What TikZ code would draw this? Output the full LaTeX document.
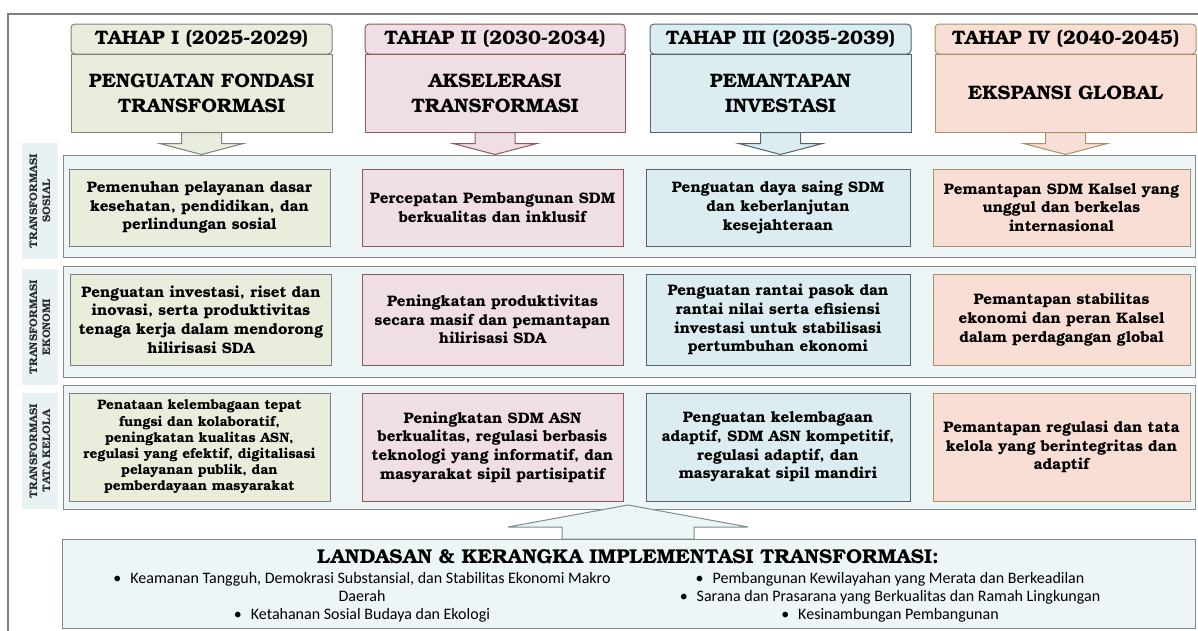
\documentclass[tikz,border=0pt]{standalone}
\usepackage{fontspec}
\setmainfont{TeX Gyre Bonum}
\newfontfamily\bulletfont{Carlito}
\usetikzlibrary{calc}
\definecolor{gfill}{HTML}{E8EDDC}\definecolor{gline}{HTML}{7F7F7F}
\definecolor{pfill}{HTML}{EFDEE3}\definecolor{pline}{HTML}{8C5A5A}
\definecolor{bfill}{HTML}{DCEDF2}\definecolor{bline}{HTML}{52656F}
\definecolor{ofill}{HTML}{F9DED5}\definecolor{oline}{HTML}{A8926A}
\definecolor{panfill}{HTML}{EEF5F7}\definecolor{panline}{HTML}{7F8A8C}
\definecolor{labfill}{HTML}{E8F1F4}\definecolor{labtext}{HTML}{2A2A2A}
\begin{document}
\begin{tikzpicture}[x=1pt,y=-1pt,
  head/.style={draw, line width=1pt, rounded corners=4pt, minimum height=30pt, inner sep=0pt,
     font=\fontsize{19.5}{22}\selectfont\bfseries},
  body/.style={draw, line width=1pt, minimum height=78pt, inner sep=0pt, align=center,
     font=\fontsize{19.5}{25}\selectfont\bfseries},
  cell/.style={draw, line width=1pt, inner sep=0pt, align=center,
     font=\fontsize{15.2}{18.7}\selectfont\bfseries},
  panel/.style={draw=panline, fill=panfill, line width=1pt},
  lab/.style={fill=labfill, rotate=90, inner sep=0pt, align=center, text=labtext,
     minimum height=36pt, font=\fontsize{11}{13}\selectfont\bfseries},
  darr/.style={line width=1pt, line join=miter}
]
\useasboundingbox (0,0) rectangle (1198,630);
% outer frame
\draw[gline, line width=1.3pt] (8,14) rectangle (1210,645);

% ---- Tahap headers ----
\node[body, fill=gfill, draw=gline, minimum width=261pt] (b1) at (201.5,93) {PENGUATAN FONDASI\\TRANSFORMASI};
\node[head, fill=gfill, draw=gline, minimum width=261pt] (h1) at (201.5,39) {TAHAP I (2025-2029)};
\node[body, fill=pfill, draw=pline, minimum width=260pt] (b2) at (495,93) {AKSELERASI\\TRANSFORMASI};
\node[head, fill=pfill, draw=pline, minimum width=260pt] (h2) at (495,39) {TAHAP II (2030-2034)};
\node[body, fill=bfill, draw=bline, minimum width=261pt] (b3) at (780.5,93) {PEMANTAPAN\\INVESTASI};
\node[head, fill=bfill, draw=bline, minimum width=261pt] (h3) at (780.5,39) {TAHAP III (2035-2039)};
\node[body, fill=ofill, draw=oline, minimum width=261pt] (b4) at (1065.5,93) {EKSPANSI GLOBAL};
\node[head, fill=ofill, draw=oline, minimum width=261pt] (h4) at (1065.5,39) {TAHAP IV (2040-2045)};

% ---- down arrows ----
\foreach \b/\f/\l in {b1/gfill/gline, b2/pfill/pline, b3/bfill/bline, b4/ofill/oline}{
  \draw[darr, fill=\f, draw=\l] ($(\b.south)+(-20,0)$) -- ($(\b.south)+(20,0)$) -- ($(\b.south)+(20,11)$)
     -- ($(\b.south)+(42,11)$) -- ($(\b.south)+(0,22)$) -- ($(\b.south)+(-42,11)$)
     -- ($(\b.south)+(-20,11)$) -- cycle;
}

% ---- row panels ----
\draw[panel] (63,155) rectangle (1195,257);
\draw[panel] (63,266) rectangle (1195,377);
\draw[panel] (63,385) rectangle (1195,509);

\node[lab, minimum width=116pt] (l1) at (40,201) {TRANSFORMASI\\SOSIAL};
\node[lab, minimum width=116pt] (l2) at (40,327) {TRANSFORMASI\\EKONOMI};
\node[lab, minimum width=116pt] (l3) at (40,451) {TRANSFORMASI\\TATA KELOLA};

% ---- row 1 ----
\node[cell, fill=gfill, draw=gline, minimum width=261pt, minimum height=77pt] (s1) at (199.5,207.5)
  {Pemenuhan pelayanan dasar\\kesehatan, pendidikan, dan\\perlindungan sosial};
\node[cell, fill=pfill, draw=pline, minimum width=261pt, minimum height=77pt] (s2) at (492.5,207.5)
  {Percepatan Pembangunan SDM\\berkualitas dan inklusif};
\node[cell, fill=bfill, draw=bline, minimum width=264pt, minimum height=77pt] (s3) at (778,207.5)
  {Penguatan daya saing SDM\\dan keberlanjutan\\kesejahteraan};
\node[cell, fill=ofill, draw=oline, minimum width=257pt, minimum height=77pt] (s4) at (1061.5,207.5)
  {Pemantapan SDM Kalsel yang\\unggul dan berkelas\\internasional};

% ---- row 2 ----
\node[cell, fill=gfill, draw=gline, minimum width=261pt, minimum height=91pt] (e1) at (201,319.5)
  {Penguatan investasi, riset dan\\inovasi, serta produktivitas\\tenaga kerja dalam mendorong\\hilirisasi SDA};
\node[cell, fill=pfill, draw=pline, minimum width=261pt, minimum height=91pt] (e2) at (492.5,319.5)
  {Peningkatan produktivitas\\secara masif dan pemantapan\\hilirisasi SDA};
\node[cell, fill=bfill, draw=bline, minimum width=264pt, minimum height=91pt] (e3) at (778,319.5)
  {Penguatan rantai pasok dan\\rantai nilai serta efisiensi\\investasi untuk stabilisasi\\pertumbuhan ekonomi};
\node[cell, fill=ofill, draw=oline, minimum width=257pt, minimum height=91pt] (e4) at (1061.5,319.5)
  {Pemantapan stabilitas\\ekonomi dan peran Kalsel\\dalam perdagangan global};

% ---- row 3 ----
\node[cell, fill=gfill, draw=gline, minimum width=261pt, minimum height=108pt,
  font=\fontsize{13.7}{16.2}\selectfont\bfseries] (k1) at (199.5,447)
  {Penataan kelembagaan tepat\\fungsi dan kolaboratif,\\peningkatan kualitas ASN,\\regulasi yang efektif, digitalisasi\\pelayanan publik, dan\\pemberdayaan masyarakat};
\node[cell, fill=pfill, draw=pline, minimum width=261pt, minimum height=108pt] (k2) at (492.5,447)
  {Peningkatan SDM ASN\\berkualitas, regulasi berbasis\\teknologi yang informatif, dan\\masyarakat sipil partisipatif};
\node[cell, fill=bfill, draw=bline, minimum width=264pt, minimum height=108pt] (k3) at (778,447)
  {Penguatan kelembagaan\\adaptif, SDM ASN kompetitif,\\regulasi adaptif, dan\\masyarakat sipil mandiri};
\node[cell, fill=ofill, draw=oline, minimum width=257pt, minimum height=108pt] (k4) at (1061.5,447)
  {Pemantapan regulasi dan tata\\kelola yang berintegritas dan\\adaptif};

% ---- up arrow + landasan ----
\coordinate (tip) at (628,505);
\draw[darr, fill=panfill, draw=panline] (tip) -- ($(tip)+(120,22)$) -- ($(tip)+(66,22)$) -- ($(tip)+(66,34)$)
   -- ($(tip)+(-66,34)$) -- ($(tip)+(-66,22)$) -- ($(tip)+(-120,22)$) -- cycle;
\draw[panel] (62,539) rectangle (1195,628);
\node[font=\fontsize{20}{22}\selectfont\bfseries] (lt) at (628,557) {LANDASAN \& KERANGKA IMPLEMENTASI TRANSFORMASI:};
\node[align=center, font=\bulletfont\fontsize{16}{18}\selectfont] (ll) at (362,597)
  {•\hspace{9pt}Keamanan Tangguh, Demokrasi Substansial, dan Stabilitas Ekonomi Makro\\Daerah\\•\hspace{9pt}Ketahanan Sosial Budaya dan Ekologi};
\node[align=center, font=\bulletfont\fontsize{16}{18}\selectfont] (lr) at (890,597)
  {•\hspace{9pt}Pembangunan Kewilayahan yang Merata dan Berkeadilan\\•\hspace{9pt}Sarana dan Prasarana yang Berkualitas dan Ramah Lingkungan\\•\hspace{9pt}Kesinambungan Pembangunan};
\end{tikzpicture}
\end{document}
